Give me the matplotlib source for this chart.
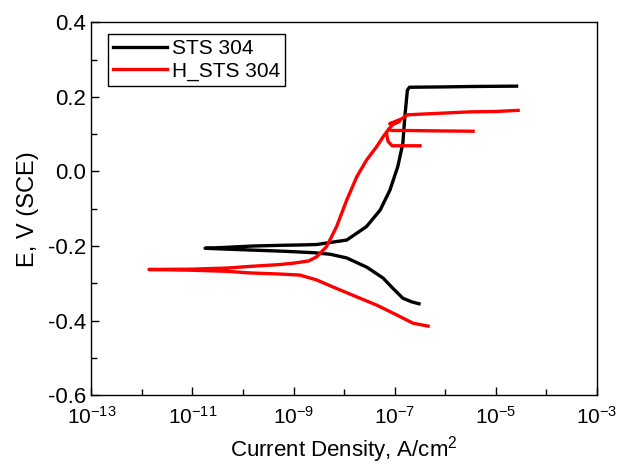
import matplotlib
matplotlib.use('Agg')
import matplotlib.pyplot as plt
from matplotlib.ticker import (FixedLocator, FormatStrFormatter, MultipleLocator,
                               LogFormatterSciNotation, NullFormatter)

plt.rcParams['font.family'] = ['Liberation Sans', 'DejaVu Sans']
plt.rcParams['mathtext.fontset'] = 'custom'
plt.rcParams['mathtext.rm'] = 'Liberation Sans'
plt.rcParams['mathtext.it'] = 'Liberation Sans:italic'

# STS 304 (black): log10(current density) and potential E (V vs SCE)
sts_logi = [-6.52, -6.66, -6.84, -7.04, -7.23, -7.55, -7.95, -8.28,
            -8.6, -9.2, -9.8, -10.4, -10.75,
            -10.4, -9.8, -9.2, -8.8, -8.545,
            -8.25, -7.95, -7.56, -7.29, -7.095, -6.94, -6.84, -6.80, -6.75, -6.71,
            -6.0, -5.5, -4.59]
sts_E = [-0.355, -0.350, -0.340, -0.313, -0.286, -0.257, -0.232, -0.222,
         -0.218, -0.214, -0.211, -0.208, -0.206,
         -0.204, -0.200, -0.198, -0.197, -0.196,
         -0.190, -0.184, -0.148, -0.104, -0.050, 0.013, 0.075, 0.147, 0.218, 0.226,
         0.227, 0.228, 0.229]

# H_STS 304 (red): main scan
hsts_logi = [-6.34, -6.64, -6.96, -7.35, -7.83, -8.22, -8.545, -8.875,
             -9.3, -9.9, -10.3, -11.0, -11.86,
             -11.0, -10.3, -9.9, -9.3, -9.0,
             -8.7, -8.545, -8.35, -8.15, -7.95, -7.75, -7.556, -7.36, -7.23, -7.16,
             -7.05, -6.9, -7.1, -6.85, -6.76, -6.3, -5.51, -5.0, -4.56]
hsts_E = [-0.415, -0.407, -0.385, -0.359, -0.332, -0.310, -0.291, -0.278,
          -0.275, -0.272, -0.268, -0.265, -0.263,
          -0.262, -0.259, -0.255, -0.250, -0.246,
          -0.240, -0.229, -0.202, -0.148, -0.077, -0.014, 0.031, 0.066, 0.093, 0.106,
          0.125, 0.135, 0.128, 0.142, 0.152, 0.155, 0.160, 0.161, 0.164]

# H_STS 304 side arms (current spikes in the passive region)
hsts_arm1_logi = [-7.12, -7.05, -6.8, -6.2, -5.45]
hsts_arm1_E = [0.112, 0.110, 0.110, 0.109, 0.108]
hsts_arm2_logi = [-7.16, -7.13, -7.05, -6.8, -6.5]
hsts_arm2_E = [0.100, 0.080, 0.069, 0.069, 0.069]

xticks = [1e-13, 1e-11, 1e-9, 1e-7, 1e-5, 1e-3]
xminor = [1e-12, 1e-10, 1e-8, 1e-6, 1e-4]

fig = plt.figure(figsize=(6.17, 4.67), dpi=100)
ax = fig.add_axes([0.148, 0.154, 0.8196, 0.798])

ax.plot([10 ** v for v in sts_logi], sts_E, color='black', lw=2.4, label='STS 304')
ax.plot([10 ** v for v in hsts_logi], hsts_E, color='red', lw=2.4, label='H_STS 304')
ax.plot([10 ** v for v in hsts_arm1_logi], hsts_arm1_E, color='red', lw=2.4)
ax.plot([10 ** v for v in hsts_arm2_logi], hsts_arm2_E, color='red', lw=2.4)

ax.set_xscale('log')
ax.set_xlim(1e-13, 1e-3)
ax.set_ylim(-0.6, 0.4)
ax.xaxis.set_major_locator(FixedLocator(xticks))
ax.xaxis.set_minor_locator(FixedLocator(xminor))
ax.xaxis.set_major_formatter(LogFormatterSciNotation())
ax.xaxis.set_minor_formatter(NullFormatter())
ax.yaxis.set_major_locator(MultipleLocator(0.2))
ax.yaxis.set_minor_locator(MultipleLocator(0.1))
ax.yaxis.set_major_formatter(FormatStrFormatter('%.1f'))

ax.tick_params(which='both', direction='in', top=False, right=False, colors='black')
ax.tick_params(axis='y', labelsize=16)
ax.tick_params(axis='x', labelsize=15)
ax.tick_params(which='major', length=6, width=1, pad=4)
ax.tick_params(axis='x', which='major', pad=8)
ax.tick_params(which='minor', length=4, width=1)
for s in ax.spines.values():
    s.set_linewidth(1)

ax.set_xlabel('Current Density, A/cm$^2$', fontsize=16, labelpad=4)
ax.set_ylabel('E, V (SCE)', fontsize=17, labelpad=6)

leg = ax.legend(loc='upper left', bbox_to_anchor=(0.033, 0.969), borderaxespad=0,
                fontsize=15, fancybox=False, edgecolor='black', framealpha=1,
                handlelength=2.6, handletextpad=0.2, labelspacing=0.15, borderpad=0.25)
leg.get_frame().set_linewidth(1)

plt.savefig('out.png', dpi=100)
